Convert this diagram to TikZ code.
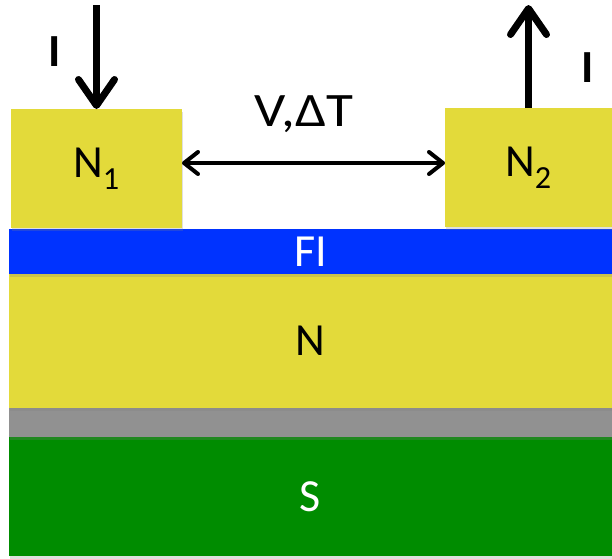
\documentclass[tikz,border=0pt]{standalone}
\usepackage{fontspec}
\setmainfont{Carlito}
\usetikzlibrary{arrows.meta,shadows}

\definecolor{metal}{RGB}{227,218,58}
\definecolor{fiblue}{RGB}{0,51,255}
\definecolor{spacer}{RGB}{145,145,145}
\definecolor{super}{RGB}{0,140,0}

\tikzset{
  layer/.style={anchor=north west, inner sep=0pt, outer sep=0pt,
    font=\fontsize{46}{50}\selectfont,
    drop shadow={opacity=0.25, shadow xshift=1pt, shadow yshift=-3pt}},
  current/.style={line width=7pt, -{Straight Barb[length=26pt, width=36pt, round]}},
  bias/.style={line width=4pt, {Straight Barb[length=14pt, width=22pt, round]}-{Straight Barb[length=14pt, width=22pt, round]}}
}

\begin{document}
\begin{tikzpicture}[x=1pt, y=-1pt]
  \useasboundingbox (0,0) rectangle (612,558);

  % Vrstvy (odspodu nahoru)
  \node[layer, fill=super, text=white, minimum width=603pt, minimum height=119pt] (s) at (9,437) {S};
  \node[layer, fill=spacer, minimum width=603pt, minimum height=29pt] (gap) at (9,408) {};
  \node[layer, fill=metal, minimum width=603pt, minimum height=134pt] (n) at (9,274) {N};
  \node[layer, fill=fiblue, text=white, minimum width=603pt, minimum height=45pt] (fi) at (9,229) {FI};

  % Kontakty N1, N2
  \node[layer, fill=metal, minimum width=171pt, minimum height=119pt] (n1) at (11,109) {N\textsubscript{1}};
  \node[layer, fill=metal, minimum width=167pt, minimum height=119pt] (n2) at (445,108) {N\textsubscript{2}};

  % Proud
  \coordinate (in) at (n1.north |- 0,5);
  \coordinate (out) at (n2.north |- 0,5);
  \draw[current] (in) -- (n1.north);
  \draw[current] (n2.north) -- (out);
  \node[font=\fontsize{46}{50}\selectfont\bfseries] (iin) at (55,52) {I};
  \node[font=\fontsize{46}{50}\selectfont\bfseries] (iout) at (588,68) {I};

  % Napeti a teplotni rozdil
  \draw[bias] (n1.east |- 0,163) -- (n2.west |- 0,163);
  \node[font=\fontsize{48}{50}\selectfont, xscale=1.15] (vt) at (304,114) {V,ΔT};
\end{tikzpicture}
\end{document}
